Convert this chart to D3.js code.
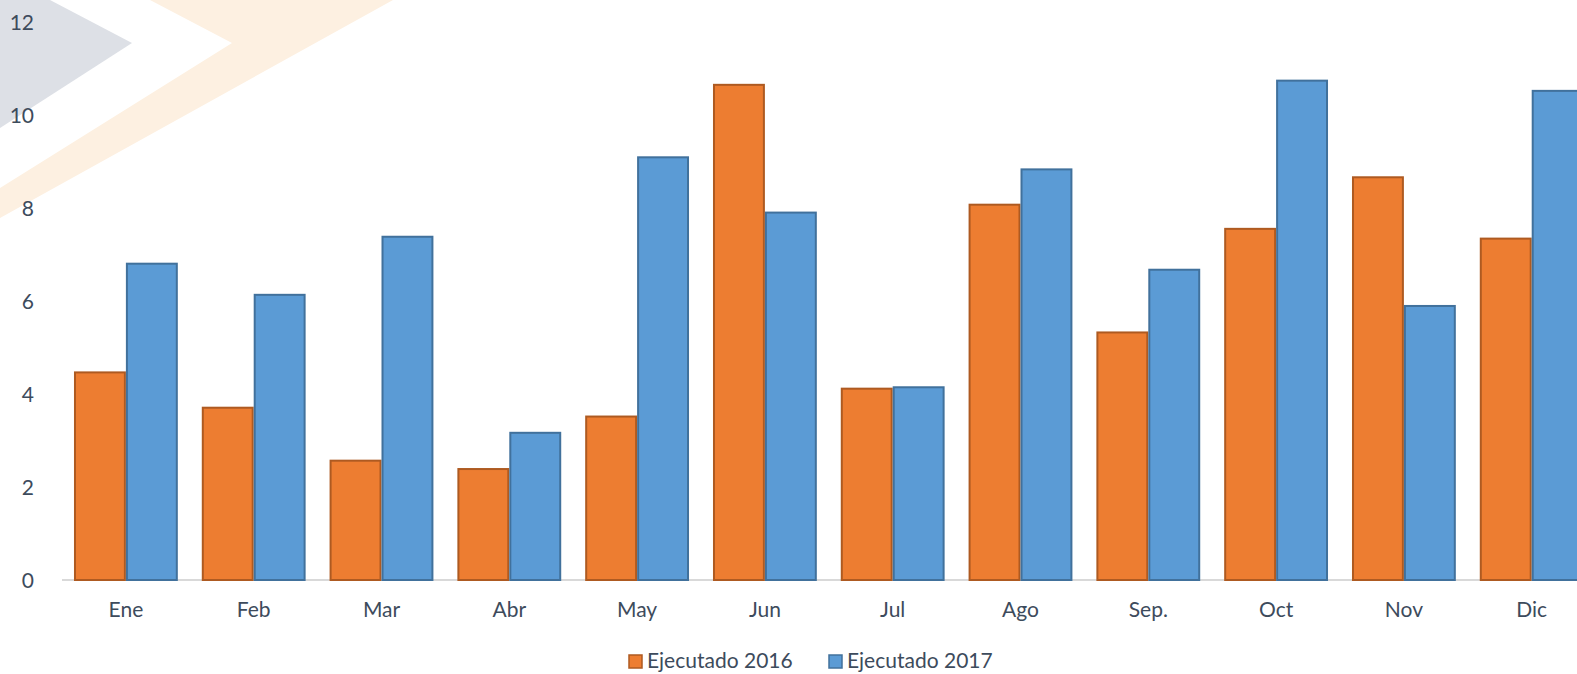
<!DOCTYPE html>
<html><head><meta charset="utf-8">
<script src="https://cdn.jsdelivr.net/npm/d3@7"></script>
<style>
html,body{margin:0;padding:0;background:#fff;overflow:hidden}
svg{display:block}
text{font-family:Lato,"Open Sans",sans-serif;fill:#3d4b5c}
</style></head>
<body>
<svg id="c" width="1577" height="674"></svg>
<script>
const categories = ["Ene","Feb","Mar","Abr","May","Jun","Jul","Ago","Sep.","Oct","Nov","Dic"];
const series2016 = [4.49, 3.73, 2.59, 2.41, 3.54, 10.68, 4.14, 8.10, 5.35, 7.58, 8.69, 7.37];
const series2017 = [6.83, 6.16, 7.41, 3.19, 9.12, 7.93, 4.17, 8.86, 6.70, 10.77, 5.92, 10.55];
const seriesNames = ["Ejecutado 2016", "Ejecutado 2017"];
const yTicks = [0, 2, 4, 6, 8, 10, 12];

const fills = ["#ed7d31", "#5b9bd5"];
const strokes = ["#ae5a21", "#41719c"];

const svg = d3.select("#c");

// background decoration
const bg = svg.append("g");
bg.append("polygon").attr("points", "0,0 50,0 132,43 0,128").attr("fill", "#dde0e6");
bg.append("polygon").attr("points", "150,0 393,0 0,218 0,188 232,43").attr("fill", "#fdf0e1");

const x0 = 62, step = 127.8;
const x = d3.scaleBand().domain(categories).range([x0, x0 + step * categories.length])
  .paddingInner(0.1875).paddingOuter(0.09375);
const xs = d3.scaleBand().domain([0, 1]).range([0, x.bandwidth()]);
const y = d3.scaleLinear().domain([0, 12]).range([580, 22.5]);

// y tick labels
const ya = svg.append("g").attr("transform", "translate(34,0)")
  .call(d3.axisLeft(y).tickValues(yTicks).tickSize(0).tickPadding(0).tickFormat(d3.format("d")));
ya.select(".domain").remove();
ya.selectAll("text").style("font-size", "21px").attr("fill", "#3d4b5c").attr("dy", "0.35em");

// baseline
svg.append("line").attr("x1", x0).attr("x2", 1577).attr("y1", y(0)).attr("y2", y(0))
  .attr("stroke", "#d9d9d9").attr("stroke-width", 2);

const data = [series2016, series2017];
const g = svg.append("g");
categories.forEach((c, i) => {
  data.forEach((s, k) => {
    g.append("rect")
      .attr("x", x(c) + xs(k) + 1)
      .attr("y", y(s[i]) + 1)
      .attr("width", xs.bandwidth() - 2)
      .attr("height", y(0) - y(s[i]) - 1)
      .attr("fill", fills[k])
      .attr("stroke", strokes[k])
      .attr("stroke-width", 2);
  });
});

// x axis labels
const xa = svg.append("g").attr("transform", `translate(0,${y(0)})`)
  .call(d3.axisBottom(x).tickSize(0).tickPadding(0));
xa.select(".domain").remove();
xa.selectAll("text").style("font-size", "21px").attr("fill", "#3d4b5c")
  .attr("y", 30).attr("dy", "0.35em");

// legend
const legX = [628, 828];
const leg = svg.append("g");
seriesNames.forEach((n, k) => {
  leg.append("rect").attr("x", legX[k] + 1).attr("y", 655).attr("width", 13).attr("height", 13)
    .attr("fill", fills[k]).attr("stroke", strokes[k]).attr("stroke-width", 1.5);
  leg.append("text").attr("x", legX[k] + 19).attr("y", 660.5).attr("dy", "0.35em")
    .style("font-size", "21px").text(n);
});
</script>
</body></html>
